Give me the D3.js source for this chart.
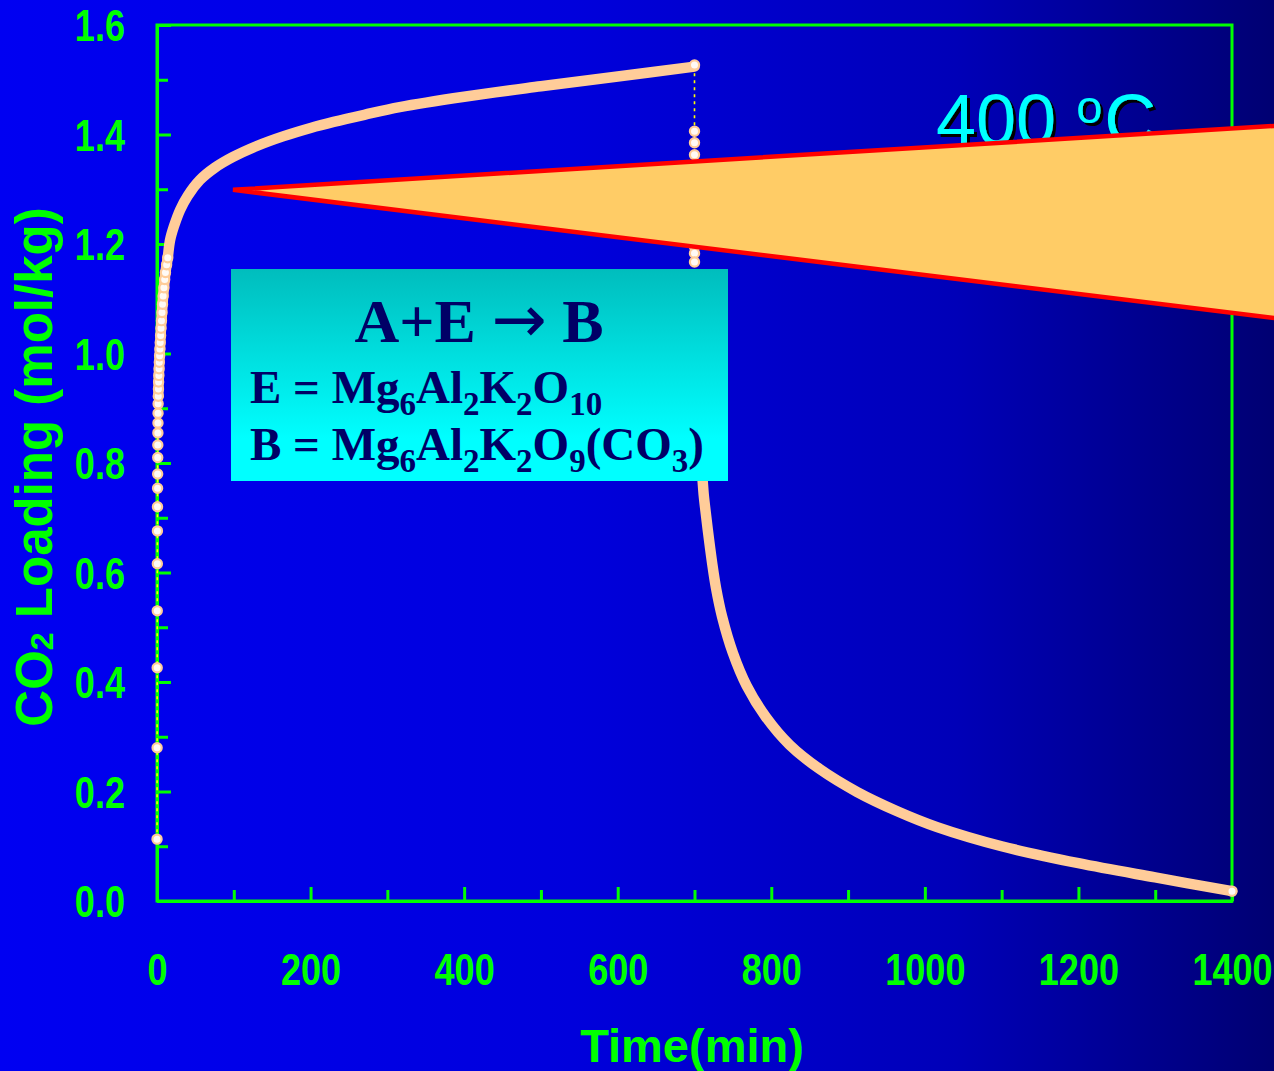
<!DOCTYPE html>
<html>
<head>
<meta charset="utf-8">
<script src="https://cdn.jsdelivr.net/npm/d3@7"></script>
<style>
html,body{margin:0;padding:0;background:#0000c8;}
svg{display:block;}
</style>
</head>
<body>
<script>
// ---------- data ----------
// initial sparse markers at t≈0 (fast uptake)
const rampTime = [0.05,0.15,0.25,0.35,0.45,0.55,0.65,0.75,0.85,0.95,1.05,1.15,1.25,1.35,1.45];
const rampLoad = [0.113,0.280,0.426,0.530,0.616,0.676,0.720,0.754,0.780,0.810,0.833,0.855,0.873,0.891,0.908];
// onset of the dense adsorption trace (markers still distinguishable)
const onsetTime = [1.7,1.9,2.1,2.4,2.7,3.0,3.4,3.8,4.2,4.7,5.2,5.8,6.5,7.2,8.0,9.0,10.0,11.0,12.5,14.0];
const onsetLoad = [0.922,0.935,0.948,0.960,0.972,0.984,0.996,1.008,1.020,1.033,1.046,1.060,1.075,1.090,1.105,1.120,1.135,1.148,1.162,1.175];
// dense adsorption trace
const uptakeTime = [14,17,22,30,40,56,75,99,130,165,200,230,270,316,400,500,600,700];
const uptakeLoad = [1.175,1.207,1.232,1.262,1.288,1.317,1.339,1.359,1.379,1.397,1.412,1.423,1.436,1.450,1.469,1.488,1.506,1.524];
// switch to purge gas at 700 min: sparse markers of the fast drop
const dropTime = [700,700,700,700,700,700,700,700,700,700,700,700,700,700,701,702,703,704];
const dropLoad = [1.527,1.406,1.385,1.363,1.340,1.300,1.260,1.220,1.195,1.183,1.167,1.130,1.090,1.040,0.980,0.920,0.870,0.830];
// dense desorption trace
const releaseTime = [707,710,712,715,719,723,728,736,750,768,793,824,863,912,964,1016,1100,1200,1300,1400];
const releaseLoad = [0.815,0.778,0.742,0.705,0.659,0.617,0.572,0.519,0.453,0.393,0.336,0.285,0.241,0.199,0.164,0.135,0.100,0.069,0.043,0.018];

const xMajorTicks = [0,200,400,600,800,1000,1200,1400];
const xMinorTicks = [100,300,500,700,900,1100,1300];
const yMajorTicks = [0,0.2,0.4,0.6,0.8,1.0,1.2,1.4,1.6];
const yMinorTicks = [0.1,0.3,0.5,0.7,0.9,1.1,1.3,1.5];

// wedge annotation (apex on the curve, opening to the right)
const wedgeTime = [99,1500,1500];
const wedgeLoad = [1.299,1.4195,1.057];

// ---------- layout ----------
const W = 1274, H = 1071;
const svg = d3.select("body").append("svg").attr("width",W).attr("height",H);
const defs = svg.append("defs");

const bg = defs.append("linearGradient").attr("id","bg").attr("x1",0).attr("y1",0).attr("x2",1).attr("y2",0);
[[0,"#0000f2"],[0.45,"#0000dc"],[0.75,"#0000b8"],[1,"#000072"]].forEach(([o,c])=>bg.append("stop").attr("offset",o).attr("stop-color",c));
const boxG = defs.append("linearGradient").attr("id","boxg").attr("x1",0).attr("y1",0).attr("x2",0).attr("y2",1);
[[0,"#00bdbd"],[0.8,"#00ffff"],[1,"#00ffff"]].forEach(([o,c])=>boxG.append("stop").attr("offset",o).attr("stop-color",c));
defs.append("filter").attr("id","shadow").attr("x","-10%").attr("y","-10%").attr("width","130%").attr("height","130%")
  .append("feDropShadow").attr("dx",3).attr("dy",3).attr("stdDeviation",0).attr("flood-color","#000000").attr("flood-opacity",1);

svg.append("rect").attr("width",W).attr("height",H).attr("fill","url(#bg)");

const x = d3.scaleLinear().domain([0,1400]).range([157,1232]);
const y = d3.scaleLinear().domain([0,1.6]).range([901,25]);

const green = "#00ff00";
const tickFont = "'Liberation Sans', Arial, sans-serif";

// frame
svg.append("rect").attr("x",x(0)).attr("y",y(1.6)).attr("width",x(1400)-x(0)).attr("height",y(0)-y(1.6))
  .attr("fill","none").attr("stroke",green).attr("stroke-width",3);

function styleAxis(g){
  g.attr("font-size",null).attr("font-family",null);
  g.select(".domain").attr("stroke",green).attr("stroke-width",3);
  g.selectAll(".tick line").attr("stroke",green).attr("stroke-width",3);
}
// x minor / major
svg.append("g").attr("transform",`translate(0,${y(0)})`)
  .call(d3.axisBottom(x).tickValues(xMinorTicks).tickSizeInner(-11).tickSizeOuter(0).tickFormat(""))
  .call(styleAxis);
const gx = svg.append("g").attr("transform",`translate(0,${y(0)})`)
  .call(d3.axisBottom(x).tickValues(xMajorTicks).tickSizeInner(-14).tickSizeOuter(0).tickFormat(d3.format("d")))
  .call(styleAxis);
gx.selectAll(".tick text").attr("y",null).attr("dy",null)
  .attr("transform","translate(0,84) scale(0.82,1)")
  .attr("text-anchor","middle").attr("fill",green)
  .attr("font-family",tickFont).attr("font-weight","bold").attr("font-size",44);
// y minor / major
svg.append("g").attr("transform",`translate(${x(0)},0)`)
  .call(d3.axisLeft(y).tickValues(yMinorTicks).tickSizeInner(-11).tickSizeOuter(0).tickFormat(""))
  .call(styleAxis);
const gy = svg.append("g").attr("transform",`translate(${x(0)},0)`)
  .call(d3.axisLeft(y).tickValues(yMajorTicks).tickSizeInner(-14).tickSizeOuter(0).tickFormat(d3.format(".1f")))
  .call(styleAxis);
gy.selectAll(".tick text").attr("x",null).attr("dy","0.36em")
  .attr("transform","translate(-32,0) scale(0.82,1)")
  .attr("text-anchor","end").attr("fill",green)
  .attr("font-family",tickFont).attr("font-weight","bold").attr("font-size",44);

// axis titles
const yl = svg.append("text").attr("transform","translate(52,467) rotate(-90)")
  .attr("text-anchor","middle").attr("fill",green).attr("font-family",tickFont)
  .attr("font-weight","bold").attr("font-size",51);
yl.append("tspan").text("CO");
yl.append("tspan").attr("font-size",32).attr("dy",1).text("2");
yl.append("tspan").attr("dy",-1).text(" Loading (mol/kg)");

svg.append("text").attr("x",692).attr("y",1062).attr("text-anchor","middle")
  .attr("fill",green).attr("font-family",tickFont).attr("font-weight","bold").attr("font-size",47)
  .text("Time(min)");

// ---------- data series ----------
const zip = (t,v)=>t.map((d,i)=>[d,v[i]]);
const ramp = zip(rampTime,rampLoad), onset = zip(onsetTime,onsetLoad), uptake = zip(uptakeTime,uptakeLoad);
const drop = zip(dropTime,dropLoad), release = zip(releaseTime,releaseLoad);
const all = [...ramp,...onset,...uptake,...drop,...release];

const lineLin = d3.line().x(d=>x(d[0])).y(d=>y(d[1]));
const lineSmooth = d3.line().x(d=>x(d[0])).y(d=>y(d[1])).curve(d3.curveCatmullRom.alpha(0.5));

// thin yellow dashed connector
svg.append("path").attr("d",lineLin(all)).attr("fill","none")
  .attr("stroke","#ffff00").attr("stroke-width",1.6).attr("stroke-dasharray","3,4");

// dense traces (overlapping markers form a thick band)
const peach = "#ffcc99";
[[...onset,...uptake.slice(1)], release].forEach(seg=>{
  svg.append("path").attr("d",lineSmooth(seg)).attr("fill","none")
    .attr("stroke",peach).attr("stroke-width",10.5).attr("stroke-linecap","round").attr("stroke-linejoin","round");
});

// discrete markers
const markers = [...ramp,...onset,...drop, release[release.length-1]];
svg.append("g").selectAll("circle").data(markers).join("circle")
  .attr("cx",d=>x(d[0])).attr("cy",d=>y(d[1])).attr("r",4.6)
  .attr("fill","#fffaf6").attr("stroke",peach).attr("stroke-width",2.2);

// ---------- annotations ----------
const tl = svg.append("text").attr("x",936).attr("y",145).attr("filter","url(#shadow)")
  .attr("fill","#00ffff").attr("font-family",tickFont).attr("font-size",72);
tl.append("tspan").text("400 ");
tl.append("tspan").attr("font-size",47).attr("dy",-22).text("o");
tl.append("tspan").attr("dy",22).attr("dx",2).text("C");

const wedge = zip(wedgeTime,wedgeLoad);
svg.append("path").attr("d",lineLin(wedge)+"Z").attr("fill","#ffcc66")
  .attr("stroke","#ff0000").attr("stroke-width",4.5).attr("stroke-linejoin","miter");

// reaction box
svg.append("rect").attr("x",231).attr("y",269).attr("width",497).attr("height",212).attr("fill","url(#boxg)");
const serif = "'Liberation Serif','Times New Roman',serif";
const navy = "#000066";
const eq = svg.append("text").attr("x",479).attr("y",342).attr("text-anchor","middle")
  .attr("fill",navy).attr("font-family",serif).attr("font-weight","bold").attr("font-size",62);
eq.append("tspan").text("A+E ");
eq.append("tspan").attr("font-family","'DejaVu Sans',sans-serif").attr("font-weight","normal").attr("font-size",66).text("\u2192");
eq.append("tspan").text(" B");
function formula(yb, parts){
  const t = svg.append("text").attr("x",250).attr("y",yb).attr("fill",navy)
    .attr("font-family",serif).attr("font-weight","bold").attr("font-size",47);
  let shifted = false;
  parts.forEach(([s,sub])=>{
    const ts = t.append("tspan").text(s);
    if(sub && !shifted){ ts.attr("font-size",33).attr("dy",12); shifted = true; }
    else if(!sub && shifted){ ts.attr("dy",-12); shifted = false; }
    else if(sub){ ts.attr("font-size",33); }
  });
}
formula(403, [["E = Mg",0],["6",1],["Al",0],["2",1],["K",0],["2",1],["O",0],["10",1]]);
formula(460, [["B = Mg",0],["6",1],["Al",0],["2",1],["K",0],["2",1],["O",0],["9",1],["(CO",0],["3",1],[")",0]]);
</script>
</body>
</html>
